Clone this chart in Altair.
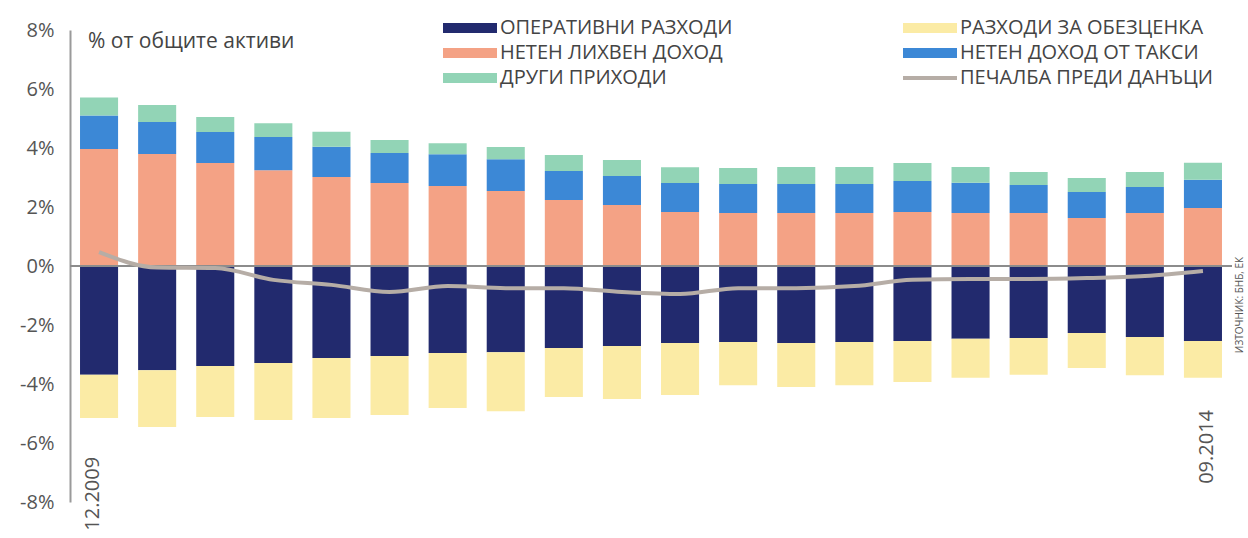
import altair as alt
import pandas as pd

periods = ["12.2009", "03.2010", "06.2010", "09.2010", "12.2010", "03.2011", "06.2011",
           "09.2011", "12.2011", "03.2012", "06.2012", "09.2012", "12.2012", "03.2013",
           "06.2013", "09.2013", "12.2013", "03.2014", "06.2014", "09.2014"]

net_interest = [3.97, 3.80, 3.49, 3.25, 3.02, 2.81, 2.71, 2.54, 2.24, 2.07,
                1.83, 1.80, 1.80, 1.80, 1.83, 1.80, 1.80, 1.63, 1.80, 1.97]
net_fees = [1.13, 1.08, 1.05, 1.12, 1.02, 1.02, 1.08, 1.08, 0.98, 0.98,
            0.98, 0.98, 0.98, 0.98, 1.05, 1.02, 0.95, 0.88, 0.88, 0.95]
other_income = [0.61, 0.58, 0.51, 0.47, 0.51, 0.44, 0.37, 0.41, 0.54, 0.54,
                0.54, 0.54, 0.58, 0.58, 0.61, 0.54, 0.44, 0.47, 0.51, 0.58]
operating_exp = [-3.69, -3.53, -3.39, -3.29, -3.12, -3.05, -2.95, -2.92, -2.78, -2.71,
                 -2.61, -2.58, -2.61, -2.58, -2.54, -2.47, -2.44, -2.27, -2.41, -2.54]
impairment = [-1.46, -1.93, -1.73, -1.93, -2.03, -2.00, -1.86, -2.00, -1.66, -1.80,
              -1.76, -1.46, -1.49, -1.46, -1.39, -1.32, -1.25, -1.19, -1.29, -1.25]
profit = [0.47, -0.05, -0.07, -0.47, -0.64, -0.88, -0.68, -0.75, -0.75, -0.88,
          -0.95, -0.75, -0.75, -0.68, -0.47, -0.44, -0.44, -0.41, -0.34, -0.17]

s_opex = "ОПЕРАТИВНИ РАЗХОДИ"
s_ni = "НЕТЕН ЛИХВЕН ДОХОД"
s_other = "ДРУГИ ПРИХОДИ"
s_imp = "РАЗХОДИ ЗА ОБЕЗЦЕНКА"
s_fees = "НЕТЕН ДОХОД ОТ ТАКСИ"
s_profit = "ПЕЧАЛБА ПРЕДИ ДАНЪЦИ"

series_names = [s_opex, s_ni, s_other, s_imp, s_fees]
series_colors = ["#222a6e", "#f4a285", "#92d4b6", "#fbeba5", "#3c88d6"]
line_color = "#b6ada6"

y_ticks = [-8, -6, -4, -2, 0, 2, 4, 6, 8]
title_text = "% от общите активи"
source_text = "ИЗТОЧНИК: БНБ, ЕК"
FONT = "Open Sans"

# build stacked segments
rows = []
for i, p in enumerate(periods):
    a = 0.0
    for name, vals in [(s_ni, net_interest), (s_fees, net_fees), (s_other, other_income)]:
        rows.append({"period": p, "series": name, "start": a, "end": a + vals[i]})
        a += vals[i]
    b = 0.0
    for name, vals in [(s_opex, operating_exp), (s_imp, impairment)]:
        rows.append({"period": p, "series": name, "start": b, "end": b + vals[i]})
        b += vals[i]
bars_df = pd.DataFrame(rows)
line_df = pd.DataFrame({"period": periods, "profit": profit})

x_enc = alt.X("period:N", sort=periods, axis=None,
              scale=alt.Scale(paddingInner=0.345, paddingOuter=0.1725))
y_scale = alt.Scale(domain=[-8, 8], nice=False)

bars = alt.Chart(bars_df).mark_bar().encode(
    x=x_enc,
    y=alt.Y("start:Q", scale=y_scale, axis=alt.Axis(
        values=y_ticks, labelExpr="datum.value + '%'", title=None,
        domain=True, domainColor="#9a9a9a", domainWidth=2, ticks=False, grid=False,
        labelFontSize=20, labelColor="#555555", labelFont=FONT, labelPadding=16)),
    y2="end:Q",
    color=alt.Color("series:N", scale=alt.Scale(domain=series_names, range=series_colors),
                    legend=None),
)

zero = alt.Chart(pd.DataFrame({"y": [0]})).mark_rule(color="#8c8c8c", strokeWidth=2).encode(
    y=alt.Y("y:Q", scale=y_scale))

line = alt.Chart(line_df).mark_line(color=line_color, strokeWidth=4,
                                    interpolate="monotone").encode(
    x=x_enc, y=alt.Y("profit:Q", scale=y_scale))

lab1 = alt.Chart(pd.DataFrame({"period": [periods[0]], "y": [-6.47], "t": [periods[0]]})).mark_text(
    angle=270, align="right", baseline="middle", fontSize=20, font=FONT, color="#555555", dy=-6
).encode(x=x_enc, y=alt.Y("y:Q", scale=y_scale), text="t:N")
lab2 = alt.Chart(pd.DataFrame({"period": [periods[-1]], "y": [-4.88], "t": [periods[-1]]})).mark_text(
    angle=270, align="right", baseline="middle", fontSize=20, font=FONT, color="#555555", dy=4
).encode(x=x_enc, y=alt.Y("y:Q", scale=y_scale), text="t:N")

# legend (drawn manually)
leg_names = [s_opex, s_ni, s_other, s_imp, s_fees, s_profit]
leg_colors = ["#222a6e", "#f4a285", "#92d4b6", "#fbeba5", "#3c88d6", line_color]
col_x = [373, 833]
row_y = [-2, 23, 48]
leg_rows = []
for k, (n, c) in enumerate(zip(leg_names, leg_colors)):
    cx = col_x[k // 3]
    ry = row_y[k % 3]
    thick = 2 if n == s_profit else 5
    leg_rows.append({"name": n, "color": c, "x": cx, "x2": cx + 54, "y": ry - thick,
                     "y2": ry + thick, "ty": ry, "tx": cx + 57})
leg_df = pd.DataFrame(leg_rows)

leg_sw = alt.Chart(leg_df).mark_rect().encode(
    x=alt.X("x:Q", scale=None), x2="x2:Q",
    y=alt.Y("y:Q", scale=None), y2="y2:Q",
    color=alt.Color("color:N", scale=None))
leg_tx = alt.Chart(leg_df).mark_text(align="left", baseline="middle", fontSize=20,
                                     font=FONT, color="#444444").encode(
    x=alt.X("tx:Q", scale=None), y=alt.Y("ty:Q", scale=None), text="name:N")

title = alt.Chart(pd.DataFrame({"t": [title_text]})).mark_text(
    align="left", baseline="middle", fontSize=21, font=FONT, color="#444444").encode(
    x=alt.value(18), y=alt.value(12), text="t:N")

source = alt.Chart(pd.DataFrame({"t": [source_text]})).mark_text(
    angle=270, align="center", baseline="middle", fontSize=10, font=FONT, color="#555555").encode(
    x=alt.value(1170), y=alt.value(275), text="t:N")

chart = alt.layer(bars, zero, line, lab1, lab2, leg_sw, leg_tx, title, source).properties(
    width=1162, height=472,
    autosize=alt.AutoSizeParams(type="none"),
    padding={"left": 70, "top": 30, "right": 16, "bottom": 36},
    background="white",
).configure_view(stroke=None)

chart.save("out.html", embed_options={"renderer": "svg", "actions": False})
